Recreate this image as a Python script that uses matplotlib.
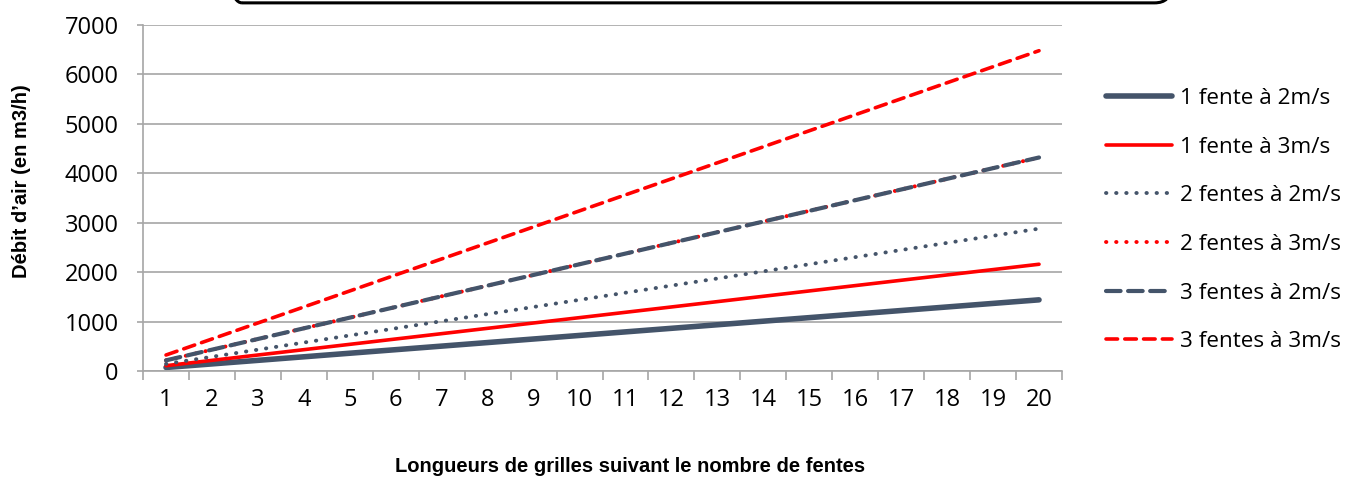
import matplotlib.pyplot as plt
from matplotlib.patches import FancyBboxPatch

# longueur de grille (nombre d'unites)
longueurs = list(range(1, 21))

# debit d'air en m3/h
fente1_2ms = [72, 144, 216, 288, 360, 432, 504, 576, 648, 720,
              792, 864, 936, 1008, 1080, 1152, 1224, 1296, 1368, 1440]
fente1_3ms = [108, 216, 324, 432, 540, 648, 756, 864, 972, 1080,
              1188, 1296, 1404, 1512, 1620, 1728, 1836, 1944, 2052, 2160]
fentes2_2ms = [144, 288, 432, 576, 720, 864, 1008, 1152, 1296, 1440,
               1584, 1728, 1872, 2016, 2160, 2304, 2448, 2592, 2736, 2880]
fentes2_3ms = [216, 432, 648, 864, 1080, 1296, 1512, 1728, 1944, 2160,
               2376, 2592, 2808, 3024, 3240, 3456, 3672, 3888, 4104, 4320]
fentes3_2ms = [216, 432, 648, 864, 1080, 1296, 1512, 1728, 1944, 2160,
               2376, 2592, 2808, 3024, 3240, 3456, 3672, 3888, 4104, 4320]
fentes3_3ms = [324, 648, 972, 1296, 1620, 1944, 2268, 2592, 2916, 3240,
               3564, 3888, 4212, 4536, 4860, 5184, 5508, 5832, 6156, 6480]

gris = '#44546A'
rouge = '#FF0000'
tick_font = 'Open Sans'

fig = plt.figure(figsize=(13.52, 4.78), dpi=100)
ax = fig.add_axes([0.1058, 0.2238, 0.6797, 0.7239])

ax.plot(longueurs, fente1_2ms, color=gris, lw=4.0, solid_capstyle='round', label='1 fente à 2m/s')
ax.plot(longueurs, fente1_3ms, color=rouge, lw=2.6, solid_capstyle='round', label='1 fente à 3m/s')
ax.plot(longueurs, fentes2_2ms, color=gris, lw=2.8, linestyle=(0, (0.1, 2.5)),
        dash_capstyle='round', label='2 fentes à 2m/s')
ax.plot(longueurs, fentes2_3ms, color=rouge, lw=2.8, linestyle=(0, (0.1, 2.5)),
        dash_capstyle='round', label='2 fentes à 3m/s')
ax.plot(longueurs, fentes3_2ms, color=gris, lw=3.0, linestyle=(0, (3.5, 1.8)),
        dash_capstyle='round', label='3 fentes à 2m/s')
ax.plot(longueurs, fentes3_3ms, color=rouge, lw=2.6, linestyle=(0, (3.2, 2.0)),
        dash_capstyle='round', label='3 fentes à 3m/s')

ax.set_xlim(0.5, 20.5)
ax.set_ylim(0, 7000)
ax.set_yticks(range(0, 7001, 1000))
ax.set_xticks(longueurs)
ax.set_xticks([i + 0.5 for i in range(0, 21)], minor=True)
ax.yaxis.grid(True, color='#A6A6A6', lw=1.2)
ax.set_axisbelow(True)

for s in ['top', 'right']:
    ax.spines[s].set_visible(False)
for s in ['left', 'bottom']:
    ax.spines[s].set_color('#A6A6A6')
    ax.spines[s].set_linewidth(1.2)

ax.tick_params(axis='y', length=4.5, width=1.2, color='#A6A6A6', pad=13, labelsize=17)
ax.tick_params(axis='x', which='major', length=0, pad=12, labelsize=17)
ax.tick_params(axis='x', which='minor', length=6.5, width=1.2, color='#A6A6A6')
for lab in ax.get_xticklabels() + ax.get_yticklabels():
    lab.set_fontfamily(tick_font)

fig.text(0.016, 0.621, 'Débit d’air (en m3/h)', rotation=90, ha='center', va='center',
         fontsize=14.5, fontweight='bold', family='Liberation Sans')
fig.text(0.466, 0.024, 'Longueurs de grilles suivant le nombre de fentes', ha='center',
         va='center', fontsize=14.5, fontweight='bold', family='Liberation Sans')

leg = ax.legend(loc='upper left', bbox_to_anchor=(0.8114, 0.835), bbox_transform=fig.transFigure,
                frameon=False, handlelength=2.95, handletextpad=0.35, labelspacing=1.23,
                prop={'family': tick_font, 'size': 16.2}, borderaxespad=0)

# cadre du titre coupe en haut
box = FancyBboxPatch((0.167, 0.994), 0.699, 0.2, boxstyle='round,pad=0,rounding_size=0.012',
                     transform=fig.transFigure, fill=False, edgecolor='black', lw=2.2,
                     mutation_aspect=2.8, clip_on=False)
fig.patches.append(box)

fig.savefig('out.png', dpi=100)
